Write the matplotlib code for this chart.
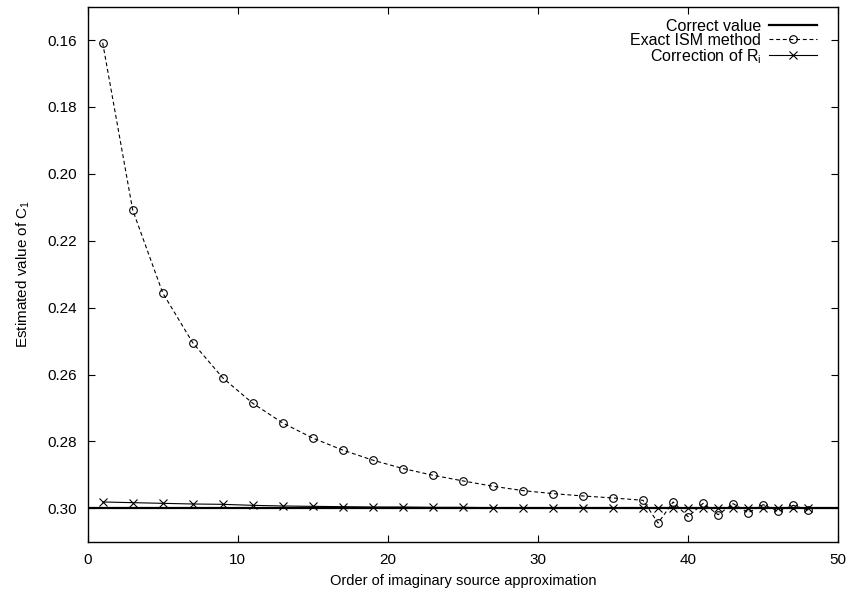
import numpy as np
import matplotlib
matplotlib.use("Agg")
from matplotlib import pyplot as plt

plt.rcParams["font.family"] = ["Liberation Sans", "DejaVu Sans"]
plt.rcParams["mathtext.default"] = "regular"
plt.rcParams["font.size"] = 11

# approximation orders (odd up to 37, then every integer)
orders = list(range(1, 38, 2)) + list(range(38, 49))

# exact image source method estimates
ism_values = [
    0.1608, 0.2108, 0.2356, 0.2505, 0.2610, 0.2686, 0.2745, 0.2790, 0.2826,
    0.2856, 0.2881, 0.2901, 0.2918, 0.2934, 0.2947, 0.2956, 0.2963, 0.2969,
    0.2976,
    0.3044, 0.2981, 0.3025, 0.2985, 0.3019, 0.2986, 0.3013, 0.2989, 0.3009,
    0.2991, 0.3005,
]

# corrected estimates
corr_values = [
    0.2981, 0.2983, 0.2985, 0.2987, 0.2988, 0.2991, 0.2993, 0.2994, 0.2995,
    0.2996, 0.2996, 0.2997, 0.2997, 0.2998, 0.2998, 0.2998, 0.2998, 0.2998,
    0.2998,
    0.2999, 0.2999, 0.3000, 0.2999, 0.3000, 0.2999, 0.3000, 0.2999, 0.3000,
    0.2999, 0.3000,
]

correct_value = 0.30
yticks = np.arange(0.16, 0.301, 0.02)

fig = plt.figure(figsize=(8.51, 5.99), dpi=100)
ax = fig.add_axes([0.103, 0.0955, 0.882, 0.8935])

ax.axhline(correct_value, color="black", linewidth=1.6, label="Correct value")
ax.plot(orders, ism_values, color="black", linewidth=0.8,
        linestyle=(0, (3.5, 2.5)), marker="o", markersize=5.5,
        markerfacecolor="none", markeredgewidth=0.8, label="Exact ISM method")
ax.plot(orders, corr_values, color="black", linewidth=0.8, marker="x",
        markersize=6, markeredgewidth=0.8, label="Correction of R$_i$")

ax.set_xlim(0, 50)
ax.set_ylim(0.31, 0.15)
ax.set_xticks([0, 10, 20, 30, 40, 50])
ax.set_yticks(yticks)
ax.set_yticklabels([f"{v:.2f}" for v in yticks])
ax.tick_params(direction="in", top=True, right=True, length=5, width=0.8,
               labelsize=11, pad=8)
for s in ax.spines.values():
    s.set_linewidth(1.0)

ax.set_xlabel("Order of imaginary source approximation", fontsize=10.5,
              labelpad=5)
ax.set_ylabel("Estimated value of C$_1$", fontsize=11, labelpad=11)

ax.legend(loc="upper right", bbox_to_anchor=(0.988, 1.0), frameon=False,
          markerfirst=False, handlelength=3.0, labelspacing=-0.05,
          borderaxespad=0.35, handletextpad=0.5, fontsize=11.5)

fig.savefig("out.png", dpi=100)
